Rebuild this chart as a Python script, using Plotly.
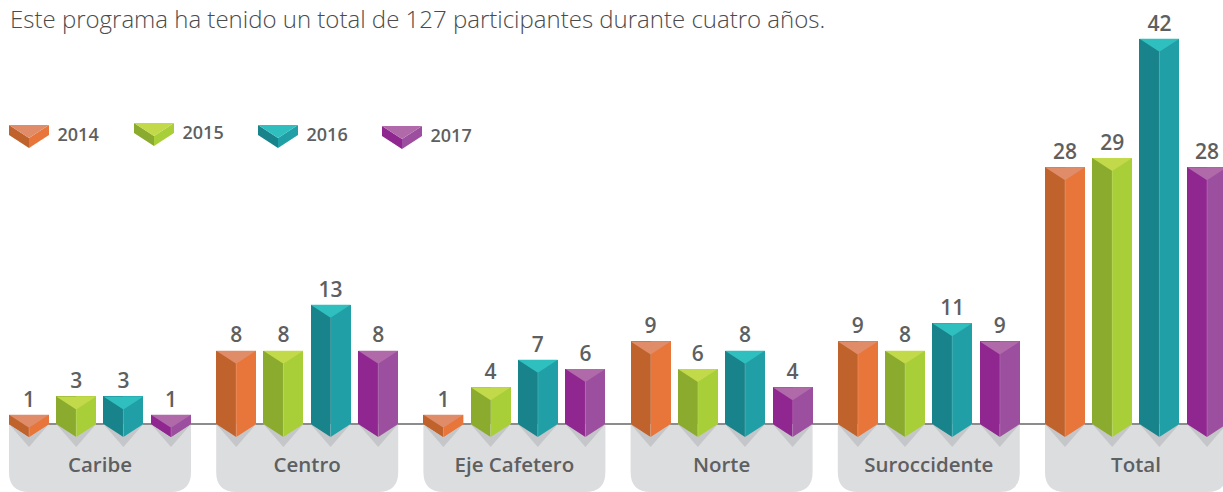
import plotly.graph_objects as go

regions = ["Caribe", "Centro", "Eje Cafetero", "Norte", "Suroccidente", "Total"]
years = ["2014", "2015", "2016", "2017"]
v2014 = [1, 8, 1, 9, 9, 28]
v2015 = [3, 8, 4, 6, 8, 29]
v2016 = [3, 13, 7, 8, 11, 42]
v2017 = [1, 8, 6, 4, 9, 28]
series = [v2014, v2015, v2016, v2017]
title_text = "Este programa ha tenido un total de 127 participantes durante cuatro años."

dark = ["#c0622b", "#8aab2e", "#18838a", "#90268f"]
light = ["#e8763a", "#a8cf38", "#20a0a6", "#9c4f9e"]
cap = ["#e08c68", "#c2d94a", "#30bfbf", "#b06aaa"]

W, H = 1223, 492
BASE_PX, UNIT_PX, PITCH_PX, LEFT_PX = 424.0, 9.17, 207.2, 9.0
OFFS = [0, 47.2, 94.4, 142]
BAR_W = 40.0
PANEL_W = 182.0
DEPTH = 13.0


def xd(px):
    return (px - LEFT_PX) / PITCH_PX


def yd(px):
    return (BASE_PX - px) / UNIT_PX


BW = BAR_W / PITCH_PX
D = DEPTH / UNIT_PX
TXT = "#5e5f61"
FONT = "Open Sans"

fig = go.Figure()


def poly(xs, ys, color):
    fig.add_trace(go.Scatter(x=xs + xs[:1], y=ys + ys[:1], mode="lines", fill="toself",
                             fillcolor=color, line=dict(width=0), hoverinfo="skip",
                             showlegend=False))


def text(xs, ys, labels, size, pos="middle center", weight=600, color=TXT, family=FONT):
    fig.add_trace(go.Scatter(x=xs, y=ys, mode="text", text=labels, textposition=pos,
                             textfont=dict(size=size, color=color, family=family, weight=weight),
                             hoverinfo="skip", showlegend=False))


# bar bodies
for k, vals in enumerate(series):
    centers = [g + OFFS[k] / PITCH_PX + BW / 2 for g in range(len(regions))]
    fig.add_trace(go.Bar(x=[c - BW / 4 for c in centers], y=vals, width=BW / 2, base=0,
                         marker=dict(color=dark[k], line=dict(width=0)), name=years[k] + " a",
                         showlegend=False))
    fig.add_trace(go.Bar(x=[c + BW / 4 for c in centers], y=vals, width=BW / 2, base=0,
                         marker=dict(color=light[k], line=dict(width=0)), name=years[k],
                         showlegend=False))

# shadows, tips, caps and the pale centre edge
for k, vals in enumerate(series):
    for g, v in enumerate(vals):
        x0 = g + OFFS[k] / PITCH_PX
        xc, x1 = x0 + BW / 2, x0 + BW
        poly([x0, xc, x1], [0, -23 / UNIT_PX, 0], "#c5c6c9")
        poly([x0, xc, xc], [0, -D, 0], dark[k])
        poly([xc, x1, xc], [-D, 0, 0], light[k])
        if v * UNIT_PX < DEPTH:
            poly([x0, xc, xc, x0], [v, v - D, -D, 0], dark[k])
            poly([xc, x1, x1, xc], [v - D, v, 0, -D], light[k])
        poly([x0, x1, xc], [v, v, v - D], cap[k])
        fig.add_trace(go.Scatter(x=[xc, xc], y=[v - D, -D], mode="lines",
                                 line=dict(color="rgba(255,255,255,0.18)", width=1),
                                 hoverinfo="skip", showlegend=False))
    centers = [g + OFFS[k] / PITCH_PX + BW / 2 for g in range(len(vals))]
    text(centers, [v + 13.5 / UNIT_PX for v in vals], [str(v) for v in vals], 21)

# region labels
text([g + PANEL_W / 2 / PITCH_PX for g in range(len(regions))], [yd(467)] * len(regions), regions, 20.5)

# legend
leg_x = [9, 134, 258, 382]
leg_y = [125, 123, 125, 126]
for k, yr in enumerate(years):
    x0, xc, x1 = xd(leg_x[k]), xd(leg_x[k] + 20), xd(leg_x[k] + 40)
    t = yd(leg_y[k])
    e, a, b = yd(leg_y[k] + 10), yd(leg_y[k] + 13), yd(leg_y[k] + 23)
    poly([x0, xc, xc, x0], [t, a, b, e], dark[k])
    poly([xc, x1, x1, xc], [a, t, e, b], light[k])
    poly([x0, x1, xc], [t, t, a], cap[k])
    text([xd(leg_x[k] + 48.5)], [yd(leg_y[k] + 11)], [yr], 18, "middle right")

shapes = []
R = 20.0
for g in range(len(regions)):
    l = LEFT_PX + g * PITCH_PX
    r = l + PANEL_W
    p = (f"M {xd(l)} {yd(BASE_PX)} L {xd(r)} {yd(BASE_PX)} L {xd(r)} {yd(H-R)} "
         f"Q {xd(r)} {yd(H)} {xd(r-R)} {yd(H)} L {xd(l+R)} {yd(H)} "
         f"Q {xd(l)} {yd(H)} {xd(l)} {yd(H-R)} Z")
    shapes.append(dict(type="path", path=p, fillcolor="#dcdddf", line=dict(width=0), layer="below"))
shapes.append(dict(type="line", x0=xd(9), x1=xd(W), y0=0, y1=0,
                   line=dict(color="#8c8c8c", width=2), layer="below"))

fig.update_layout(
    width=W, height=H, margin=dict(l=0, r=0, t=0, b=0), autosize=False,
    plot_bgcolor="white", paper_bgcolor="white", barmode="overlay", bargap=0,
    shapes=shapes, showlegend=False,
    xaxis=dict(range=[xd(0), xd(W)], visible=False, fixedrange=True),
    yaxis=dict(range=[yd(H), yd(0)], visible=False, fixedrange=True),
    annotations=[dict(text=title_text, xref="paper", yref="paper", x=8 / W, y=1 - 19 / H,
                      xanchor="left", yanchor="middle", showarrow=False, align="left",
                      font=dict(size=24, color="#4a4b4d", family=FONT, weight=300))],
)
fig.write_html("out.html", post_script="document.body.style.margin='0';",
               config=dict(displayModeBar=False))
